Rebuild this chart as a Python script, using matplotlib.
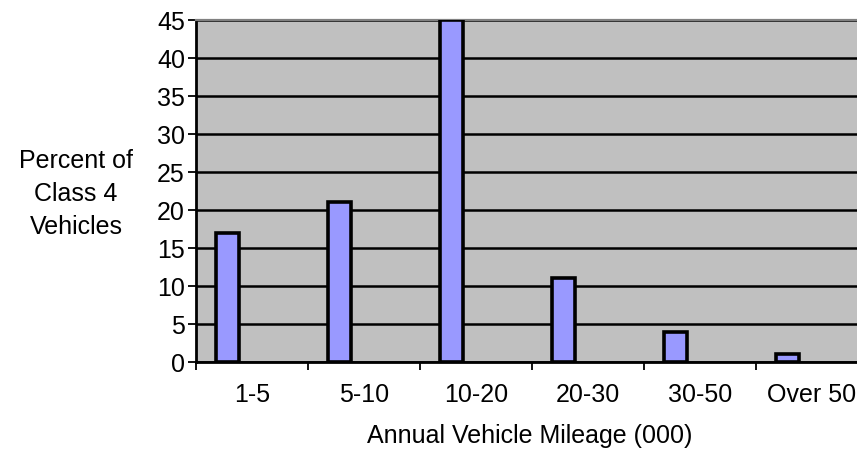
import numpy as np
import matplotlib.pyplot as plt

categories = ["1-5", "5-10", "10-20", "20-30", "30-50", "Over 50"]
percent = [17, 21, 45, 11, 4, 1]
y_ticks = [0, 5, 10, 15, 20, 25, 30, 35, 40, 45]

plt.rcParams["font.family"] = ["Liberation Sans", "DejaVu Sans"]

fig = plt.figure(figsize=(8.57, 4.54), dpi=100)
# plot area runs slightly past the right edge, as in the original
ax = fig.add_axes([196 / 857, 92 / 454, 672 / 857, 342 / 454])
ax.set_facecolor("#C0C0C0")

x = np.arange(len(categories))
ax.bar(x + 0.28, percent, width=0.21, color="#9999FF", edgecolor="black",
       linewidth=2.6, zorder=3)

ax.set_xlim(0, len(categories))
ax.set_ylim(0, 45)
ax.set_yticks(y_ticks)
ax.tick_params(axis="y", labelsize=18, length=6, width=1.3, direction="out", pad=2)
ax.yaxis.grid(True, color="black", linewidth=1.8, zorder=1)
ax.set_axisbelow(True)

# ticks at category boundaries, labels at category centres
ax.set_xticks(np.arange(len(categories) + 1))
ax.set_xticklabels([])
ax.tick_params(axis="x", which="major", length=6, width=1.3, direction="out")
ax.set_xticks(x + 0.5, minor=True)
ax.set_xticklabels(categories, minor=True)
ax.tick_params(axis="x", which="minor", length=0, labelsize=18, pad=15)

for s in ["top", "right"]:
    ax.spines[s].set_color("#808080")
    ax.spines[s].set_linewidth(1.6)
ax.spines["left"].set_linewidth(2.0)
ax.spines["bottom"].set_linewidth(2.0)

fig.text(76 / 857, 1 - 194 / 454, "Percent of\nClass 4\nVehicles", ha="center",
         va="center", fontsize=18, linespacing=1.45)
fig.text(530 / 857, 1 - 436 / 454, "Annual Vehicle Mileage (000)", ha="center",
         va="center", fontsize=18)

fig.savefig("out.png", dpi=100)
